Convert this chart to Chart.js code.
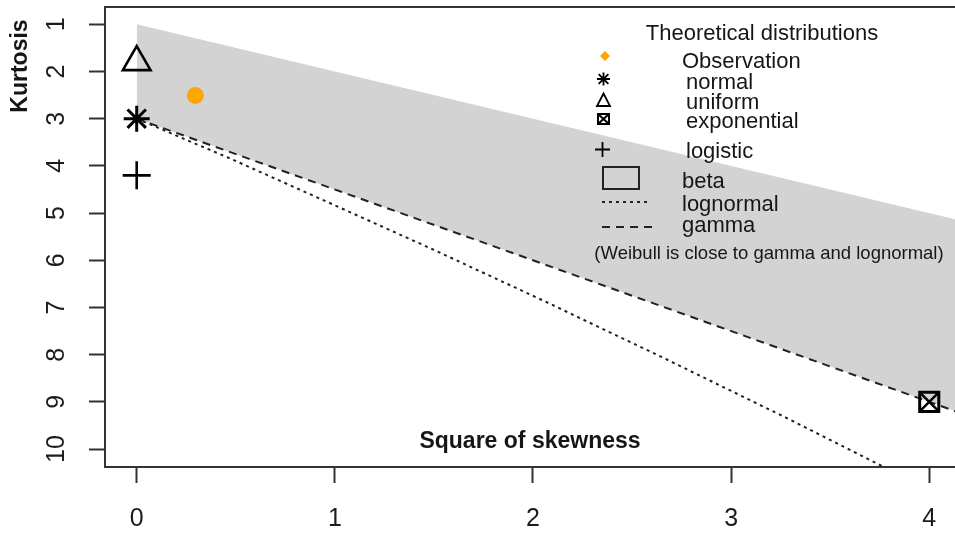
<!DOCTYPE html>
<html>
<head>
<meta charset="utf-8">
<script src="https://cdn.jsdelivr.net/npm/chart.js@4.4.1/dist/chart.umd.min.js"></script>
<style>
  html, body { margin: 0; padding: 0; background: #fff; overflow: hidden; }
  canvas { display: block; }
</style>
</head>
<body>
<canvas id="cf" width="955" height="534"></canvas>
<script>
// Cullen and Frey graph: square of skewness against kurtosis

const xTicks = [0, 1, 2, 3, 4];
const yTicks = [1, 2, 3, 4, 5, 6, 7, 8, 9, 10];

// observed sample
const observation = [{ x: 0.296, y: 2.51 }];

// single-point theoretical distributions
const normalPt = [{ x: 0, y: 3 }];
const uniformPt = [{ x: 0, y: 1.8 }];
const exponentialPt = [{ x: 4, y: 9 }];
const logisticPt = [{ x: 0, y: 4.2 }];

// beta region: upper boundary (lower edge of the region is the gamma line)
const betaUpper = [{ x: 0, y: 1 }, { x: 4.3, y: 5.3 }];
// gamma line
const gammaLine = [{ x: 0, y: 3 }, { x: 4.3, y: 9.45 }];
// lognormal curve
const lognormalLine = [
  { x: 0, y: 3 }, { x: 0.09, y: 3.16 }, { x: 0.47, y: 3.84 }, { x: 0.96, y: 4.76 },
  { x: 1.49, y: 5.76 }, { x: 2.05, y: 6.85 }, { x: 2.64, y: 8.03 },
  { x: 3.27, y: 9.32 }, { x: 3.79, y: 10.42 }
];

const FONT = '"Liberation Sans", Arial, sans-serif';
const INK = '#161616';

// legend rows: label text, text x, text baseline y
const legendRows = [
  { text: 'Observation', x: 682, y: 68 },
  { text: 'normal', x: 686, y: 89 },
  { text: 'uniform', x: 686, y: 109 },
  { text: 'exponential', x: 686, y: 128 },
  { text: 'logistic', x: 686, y: 158 },
  { text: 'beta', x: 682, y: 188 },
  { text: 'lognormal', x: 682, y: 211 },
  { text: 'gamma', x: 682, y: 232 }
];

function drawStar(ctx, x, y, r) {
  ctx.beginPath();
  ctx.moveTo(x - r, y); ctx.lineTo(x + r, y);
  ctx.moveTo(x, y - r); ctx.lineTo(x, y + r);
  const d = r * 0.75;
  ctx.moveTo(x - d, y - d); ctx.lineTo(x + d, y + d);
  ctx.moveTo(x - d, y + d); ctx.lineTo(x + d, y - d);
  ctx.stroke();
}

// keep the plot frame where it is: no extra room for edge labels
function noEdgePadding(s) {
  s.paddingTop = 0; s.paddingBottom = 0; s.paddingLeft = 0; s.paddingRight = 0;
}

const decorations = {
  id: 'decorations',
  afterDraw(chart) {
    const ctx = chart.ctx;
    const a = chart.chartArea;
    ctx.save();

    // top edge of the plot frame
    ctx.strokeStyle = '#333';
    ctx.lineWidth = 2;
    ctx.beginPath();
    ctx.moveTo(a.left - 1, a.top);
    ctx.lineTo(a.right + 2, a.top);
    ctx.stroke();

    // axis labels
    ctx.fillStyle = INK;
    ctx.font = 'bold 23px ' + FONT;
    ctx.textAlign = 'center';
    ctx.textBaseline = 'middle';
    ctx.fillText('Square of skewness', 530, 442);
    ctx.save();
    ctx.translate(21, 66);
    ctx.rotate(-Math.PI / 2);
    ctx.fillText('Kurtosis', 0, 0);
    ctx.restore();

    // legend
    ctx.textAlign = 'center';
    ctx.textBaseline = 'alphabetic';
    ctx.font = '22px ' + FONT;
    ctx.fillText('Theoretical distributions', 762, 40);
    ctx.textAlign = 'left';
    legendRows.forEach(r => ctx.fillText(r.text, r.x, r.y));
    ctx.font = '18.5px ' + FONT;
    ctx.textAlign = 'center';
    ctx.fillText('(Weibull is close to gamma and lognormal)', 769, 259);

    // legend symbols
    ctx.fillStyle = '#FFA500';
    ctx.beginPath();
    ctx.moveTo(605, 51); ctx.lineTo(610, 56); ctx.lineTo(605, 61); ctx.lineTo(600, 56);
    ctx.closePath(); ctx.fill();

    ctx.strokeStyle = '#000';
    ctx.lineWidth = 1.8;
    drawStar(ctx, 603.5, 79, 6.5);

    ctx.beginPath();
    ctx.moveTo(603.5, 93.5); ctx.lineTo(610, 106); ctx.lineTo(597, 106); ctx.closePath();
    ctx.stroke();

    ctx.lineWidth = 2;
    ctx.strokeRect(598, 114, 11, 10);
    ctx.beginPath();
    ctx.moveTo(598, 114); ctx.lineTo(609, 124);
    ctx.moveTo(609, 114); ctx.lineTo(598, 124);
    ctx.stroke();

    ctx.lineWidth = 1.8;
    ctx.beginPath();
    ctx.moveTo(595, 149.5); ctx.lineTo(610, 149.5);
    ctx.moveTo(602.5, 142); ctx.lineTo(602.5, 157);
    ctx.stroke();

    ctx.fillStyle = '#d3d3d3';
    ctx.fillRect(603, 167, 36, 22);
    ctx.strokeStyle = '#222';
    ctx.lineWidth = 2;
    ctx.strokeRect(603, 167, 36, 22);

    ctx.strokeStyle = '#222';
    ctx.lineWidth = 2;
    ctx.setLineDash([3, 4]);
    ctx.beginPath(); ctx.moveTo(602, 202); ctx.lineTo(650, 202); ctx.stroke();
    ctx.setLineDash([8, 6]);
    ctx.beginPath(); ctx.moveTo(602, 227); ctx.lineTo(652, 227); ctx.stroke();
    ctx.setLineDash([]);

    ctx.restore();
  }
};

new Chart(document.getElementById('cf'), {
  type: 'scatter',
  data: {
    datasets: [
      {
        label: 'beta', data: betaUpper, showLine: true, fill: '+1', clip: 0,
        backgroundColor: '#d3d3d3', borderWidth: 0, pointRadius: 0, order: 5
      },
      {
        label: 'gamma', data: gammaLine, showLine: true, fill: false, clip: 0,
        borderColor: '#222', borderWidth: 2, borderDash: [8, 6], pointRadius: 0, order: 3
      },
      {
        label: 'lognormal', data: lognormalLine, showLine: true, fill: false, clip: 0,
        borderColor: '#222', borderWidth: 2, borderDash: [3, 4], pointRadius: 0, order: 3
      },
      {
        label: 'Observation', data: observation, pointStyle: 'circle', pointRadius: 8.5,
        backgroundColor: '#FFA500', borderColor: '#FFA500', borderWidth: 0, order: 1
      },
      {
        label: 'normal', data: normalPt, pointStyle: 'star', pointRadius: 13,
        borderColor: '#000', borderWidth: 3, order: 1
      },
      {
        label: 'uniform', data: uniformPt, pointStyle: 'triangle', pointRadius: 16,
        backgroundColor: 'rgba(0,0,0,0)', borderColor: '#000', borderWidth: 2.6, order: 1
      },
      {
        label: 'exponential', data: exponentialPt, pointStyle: 'rect', pointRadius: 13.5,
        backgroundColor: 'rgba(0,0,0,0)', borderColor: '#000', borderWidth: 3, order: 1
      },
      {
        label: 'exponential', data: exponentialPt, pointStyle: 'crossRot', pointRadius: 13.5,
        borderColor: '#000', borderWidth: 2.5, order: 1
      },
      {
        label: 'logistic', data: logisticPt, pointStyle: 'cross', pointRadius: 14,
        borderColor: '#000', borderWidth: 2.6, order: 1
      }
    ]
  },
  options: {
    responsive: false,
    animation: false,
    devicePixelRatio: 1,
    layout: { autoPadding: false, padding: { top: 7, right: 0, left: 0, bottom: 0 } },
    plugins: { legend: { display: false }, tooltip: { enabled: false } },
    scales: {
      x: {
        type: 'linear', min: -0.16, max: 4.13,
        afterBuildTicks: s => { s.ticks = xTicks.map(v => ({ value: v })); },
        afterFit: s => { s.height = 67; noEdgePadding(s); },
        grid: { drawOnChartArea: false, drawTicks: true, tickLength: 16, tickWidth: 2, tickColor: '#333' },
        border: { display: true, color: '#333', width: 2 },
        ticks: { font: { family: FONT, size: 25 }, color: '#1c1c1c', padding: 21, maxRotation: 0, autoSkip: false }
      },
      y: {
        type: 'linear', reverse: true, min: 0.633, max: 10.38,
        afterBuildTicks: s => { s.ticks = yTicks.map(v => ({ value: v })); },
        afterFit: s => { s.width = 105; noEdgePadding(s); },
        grid: { drawOnChartArea: false, drawTicks: true, tickLength: 16, tickWidth: 2, tickColor: '#333' },
        border: { display: true, color: '#333', width: 2 },
        ticks: {
          font: { family: FONT, size: 25 }, color: '#1c1c1c', padding: 18,
          minRotation: 90, maxRotation: 90, crossAlign: 'center', autoSkip: false
        }
      }
    }
  },
  plugins: [decorations]
});
</script>
</body>
</html>
